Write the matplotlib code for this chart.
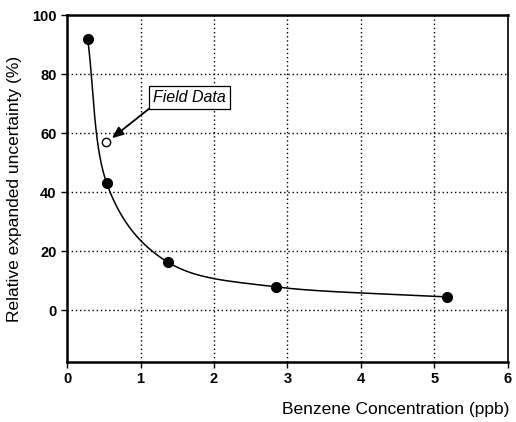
import numpy as np
import matplotlib.pyplot as plt

plt.rcParams['font.family'] = ['Liberation Sans', 'DejaVu Sans']

conc = [0.28, 0.54, 1.37, 2.84, 5.17]
uncert = [92, 43, 16.3, 7.9, 4.5]
field_conc = [0.53]
field_uncert = [57]
xticks = [0, 1, 2, 3, 4, 5, 6]
yticks = [0, 20, 40, 60, 80, 100]


def catmull_rom(x, y, n=40):
    # smooth line through the points, like a spreadsheet "smoothed line"
    x = np.asarray(x, float)
    y = np.asarray(y, float)
    px = np.concatenate([[2 * x[0] - x[1]], x, [2 * x[-1] - x[-2]]])
    py = np.concatenate([[2 * y[0] - y[1]], y, [2 * y[-1] - y[-2]]])
    xs, ys = [], []
    t = np.linspace(0, 1, n)
    for i in range(1, len(px) - 2):
        p0, p1, p2, p3 = [np.array([px[j], py[j]]) for j in range(i - 1, i + 3)]
        b1 = p1 + (p2 - p0) / 6
        b2 = p2 - (p3 - p1) / 6
        pts = ((1 - t) ** 3)[:, None] * p1 + (3 * (1 - t) ** 2 * t)[:, None] * b1 \
            + (3 * (1 - t) * t ** 2)[:, None] * b2 + (t ** 3)[:, None] * p2
        xs.extend(pts[:, 0])
        ys.extend(pts[:, 1])
    return xs, ys


fig = plt.figure(figsize=(5.16, 4.22), dpi=100)
ax = fig.add_axes([0.130, 0.142, 0.854, 0.822])

sx, sy = catmull_rom(conc, uncert)
ax.plot(sx, sy, color='black', lw=1.1, zorder=3)
ax.plot(conc, uncert, 'o', color='black', ms=7, zorder=4)
ax.plot(field_conc, field_uncert, 'o', mfc='white', mec='black', ms=6, mew=1, zorder=4)

ax.annotate('Field Data', xy=(0.61, 58.3), xytext=(1.67, 72),
            fontsize=11.5, style='italic', ha='center', va='center',
            bbox=dict(boxstyle='square,pad=0.25', fc='white', ec='black', lw=0.9),
            arrowprops=dict(arrowstyle='-|>,head_length=0.6,head_width=0.25', color='black', lw=1.3,
                            shrinkA=0, shrinkB=0,
                            connectionstyle='arc3', relpos=(0.0, 0.0)),
            zorder=5)

ax.set_xlim(0, 6)
ax.set_ylim(-17.6, 100)
ax.set_xticks(xticks)
ax.set_yticks(yticks)
ax.tick_params(direction='out', length=4, width=1, labelsize=10.5)
for lab in ax.get_xticklabels() + ax.get_yticklabels():
    lab.set_fontweight('bold')
ax.grid(True, color='black', linestyle=(0, (1, 2)), lw=1)

for side in ['left', 'bottom', 'top']:
    ax.spines[side].set_linewidth(1.8)
ax.spines['right'].set_linewidth(1.2)

ax.set_ylabel('Relative expanded uncertainty (%)', fontsize=12.5, labelpad=7)
fig.text(0.988, 0.012, 'Benzene Concentration (ppb)', fontsize=12.5, ha='right', va='bottom')

fig.savefig('out.png', dpi=100)
